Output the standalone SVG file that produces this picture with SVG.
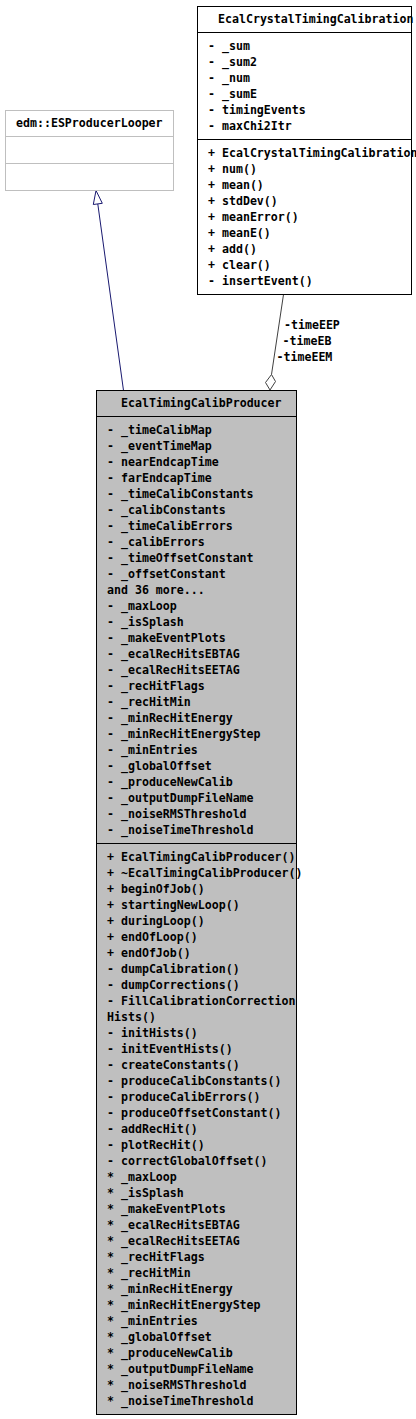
<svg xmlns="http://www.w3.org/2000/svg" width="416" height="1419" viewBox="0 0 416 1419">
<style>
text { font-family: "DejaVu Sans Mono", "Liberation Mono", monospace; font-size: 11.6px; font-weight: bold; fill: #000; }
.wb { fill: #ffffff; stroke: #000000; stroke-width: 1; }
.gb { fill: #ffffff; stroke: #bfbfbf; stroke-width: 1; }
.mb { fill: #bfbfbf; stroke: #000000; stroke-width: 1; }
.sep { stroke: #000000; stroke-width: 1; }
.gsep { stroke: #bfbfbf; stroke-width: 1; }
.inh { fill: none; stroke: #191970; stroke-width: 1; }
.inhh { fill: #ffffff; stroke: #191970; stroke-width: 1; }
.agg { fill: none; stroke: #404040; stroke-width: 1; }
.aggh { fill: #ffffff; stroke: #404040; stroke-width: 1; }
</style>
<rect width="416" height="1419" fill="#ffffff"/>

<g id="connectors">
  <path class="inh" d="M97.8,204 L123.5,390.5"/>
  <polygon class="inhh" points="96,190.5 102.3,203.3 93.3,204.5"/>
  <path class="agg" d="M283.5,294.5 L271.5,374.5"/>
  <polygon class="aggh" points="271.5,374.5 275.5,381.5 270,390 265.5,382.5"/>
  <text x="284" y="329">-timeEEP</text>
  <text x="282.5" y="345">-timeEB</text>
  <text x="276.5" y="361">-timeEEM</text>
</g>

<g id="node-ESProducerLooper">
  <rect class="gb" x="5.5" y="110.5" width="168" height="80"/>
  <line class="gsep" x1="5.5" y1="136.5" x2="173.5" y2="136.5"/>
  <line class="gsep" x1="5.5" y1="163.5" x2="173.5" y2="163.5"/>
  <text x="16" y="127">edm::ESProducerLooper</text>
</g>

<g id="node-EcalCrystalTimingCalibration">
  <rect class="wb" x="197.5" y="6.5" width="214" height="288"/>
  <line class="sep" x1="197.5" y1="32.5" x2="411.5" y2="32.5"/>
  <line class="sep" x1="197.5" y1="139.5" x2="411.5" y2="139.5"/>
  <text x="218" y="23">EcalCrystalTimingCalibration</text>
  <text x="208" y="50">- _sum</text>
  <text x="208" y="66">- _sum2</text>
  <text x="208" y="82">- _num</text>
  <text x="208" y="98">- _sumE</text>
  <text x="208" y="114">- timingEvents</text>
  <text x="208" y="130">- maxChi2Itr</text>
  <text x="208" y="156.5">+ EcalCrystalTimingCalibration</text>
  <text x="208" y="172.5">+ num()</text>
  <text x="208" y="188.5">+ mean()</text>
  <text x="208" y="204.5">+ stdDev()</text>
  <text x="208" y="220.5">+ meanError()</text>
  <text x="208" y="236.5">+ meanE()</text>
  <text x="208" y="252.5">+ add()</text>
  <text x="208" y="268.5">+ clear()</text>
  <text x="208" y="284.5">- insertEvent()</text>
</g>

<g id="node-EcalTimingCalibProducer">
  <rect class="mb" x="96.5" y="390.5" width="200" height="1024"/>
  <line class="sep" x1="96.5" y1="416.5" x2="296.5" y2="416.5"/>
  <line class="sep" x1="96.5" y1="843.5" x2="296.5" y2="843.5"/>
  <text x="121" y="407">EcalTimingCalibProducer</text>
  <text x="107" y="434">- _timeCalibMap</text>
  <text x="107" y="450">- _eventTimeMap</text>
  <text x="107" y="466">- nearEndcapTime</text>
  <text x="107" y="482">- farEndcapTime</text>
  <text x="107" y="498">- _timeCalibConstants</text>
  <text x="107" y="514">- _calibConstants</text>
  <text x="107" y="530">- _timeCalibErrors</text>
  <text x="107" y="546">- _calibErrors</text>
  <text x="107" y="562">- _timeOffsetConstant</text>
  <text x="107" y="578">- _offsetConstant</text>
  <text x="107" y="594">and 36 more...</text>
  <text x="107" y="610">- _maxLoop</text>
  <text x="107" y="626">- _isSplash</text>
  <text x="107" y="642">- _makeEventPlots</text>
  <text x="107" y="658">- _ecalRecHitsEBTAG</text>
  <text x="107" y="674">- _ecalRecHitsEETAG</text>
  <text x="107" y="690">- _recHitFlags</text>
  <text x="107" y="706">- _recHitMin</text>
  <text x="107" y="722">- _minRecHitEnergy</text>
  <text x="107" y="738">- _minRecHitEnergyStep</text>
  <text x="107" y="754">- _minEntries</text>
  <text x="107" y="770">- _globalOffset</text>
  <text x="107" y="786">- _produceNewCalib</text>
  <text x="107" y="802">- _outputDumpFileName</text>
  <text x="107" y="818">- _noiseRMSThreshold</text>
  <text x="107" y="834">- _noiseTimeThreshold</text>
  <text x="107" y="860.5">+ EcalTimingCalibProducer()</text>
  <text x="107" y="876.5">+ ~EcalTimingCalibProducer()</text>
  <text x="107" y="892.5">+ beginOfJob()</text>
  <text x="107" y="908.5">+ startingNewLoop()</text>
  <text x="107" y="924.5">+ duringLoop()</text>
  <text x="107" y="940.5">+ endOfLoop()</text>
  <text x="107" y="956.5">+ endOfJob()</text>
  <text x="107" y="972.5">- dumpCalibration()</text>
  <text x="107" y="988.5">- dumpCorrections()</text>
  <text x="107" y="1004.5">- FillCalibrationCorrection</text>
  <text x="107" y="1020.5">Hists()</text>
  <text x="107" y="1036.5">- initHists()</text>
  <text x="107" y="1052.5">- initEventHists()</text>
  <text x="107" y="1068.5">- createConstants()</text>
  <text x="107" y="1084.5">- produceCalibConstants()</text>
  <text x="107" y="1100.5">- produceCalibErrors()</text>
  <text x="107" y="1116.5">- produceOffsetConstant()</text>
  <text x="107" y="1132.5">- addRecHit()</text>
  <text x="107" y="1148.5">- plotRecHit()</text>
  <text x="107" y="1164.5">- correctGlobalOffset()</text>
  <text x="107" y="1180.5">* _maxLoop</text>
  <text x="107" y="1196.5">* _isSplash</text>
  <text x="107" y="1212.5">* _makeEventPlots</text>
  <text x="107" y="1228.5">* _ecalRecHitsEBTAG</text>
  <text x="107" y="1244.5">* _ecalRecHitsEETAG</text>
  <text x="107" y="1260.5">* _recHitFlags</text>
  <text x="107" y="1276.5">* _recHitMin</text>
  <text x="107" y="1292.5">* _minRecHitEnergy</text>
  <text x="107" y="1308.5">* _minRecHitEnergyStep</text>
  <text x="107" y="1324.5">* _minEntries</text>
  <text x="107" y="1340.5">* _globalOffset</text>
  <text x="107" y="1356.5">* _produceNewCalib</text>
  <text x="107" y="1372.5">* _outputDumpFileName</text>
  <text x="107" y="1388.5">* _noiseRMSThreshold</text>
  <text x="107" y="1404.5">* _noiseTimeThreshold</text>
</g>
</svg>
